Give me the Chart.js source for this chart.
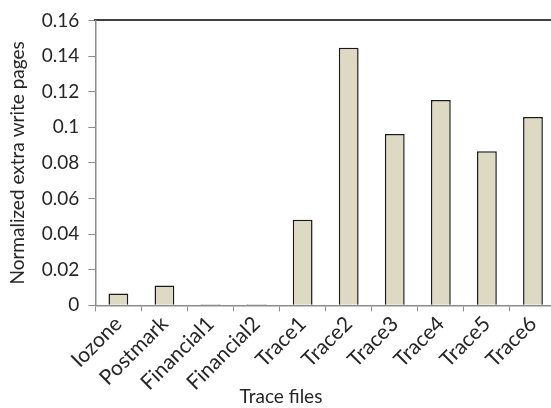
<!DOCTYPE html>
<html>
<head>
<meta charset="utf-8">
<script src="https://cdn.jsdelivr.net/npm/chart.js@4/dist/chart.umd.min.js"></script>
<style>
    html, body { margin: 0; padding: 0; background: #fff; overflow: hidden; }
    #wrap { width: 556px; height: 408px; }
</style>
</head>
<body>
<div id="wrap"><canvas id="extraWriteChart"></canvas></div>
<script>
// trace files on the x axis
const traceFiles = ['Iozone', 'Postmark', 'Financial1', 'Financial2', 'Trace1', 'Trace2', 'Trace3', 'Trace4', 'Trace5', 'Trace6'];
// normalized extra write pages
const extraWritePages = [0.0066, 0.0112, 0.0006, 0.0006, 0.048, 0.1446, 0.0962, 0.1153, 0.0865, 0.1058];
const yTicks = [0, 0.02, 0.04, 0.06, 0.08, 0.1, 0.12, 0.14, 0.16];

document.addEventListener('DOMContentLoaded', () => {
    const ctx = document.getElementById('extraWriteChart').getContext('2d');
    Chart.defaults.font.family = 'Lato';
    Chart.defaults.color = '#262626';

    new Chart(ctx, {
        type: 'bar',
        data: {
            labels: traceFiles,
            datasets: [{
                label: 'Normalized extra write pages',
                data: extraWritePages,
                backgroundColor: '#ddd9c3',
                borderColor: '#1a1a1a',
                borderWidth: 1.5,
                borderSkipped: 'start',
                categoryPercentage: 1,
                barPercentage: 0.43
            }]
        },
        options: {
            responsive: true,
            maintainAspectRatio: false,
            animation: false,
            layout: { padding: { left: 6, top: 9, right: 0, bottom: 0 } },
            plugins: {
                legend: { display: false },
                tooltip: { enabled: false },
                title: {
                    display: true,
                    text: 'Trace files',
                    position: 'bottom',
                    font: { size: 19, weight: 'normal' },
                    // negative top pad lets the rotated labels use more room
                    padding: { top: -10, bottom: 0 }
                }
            },
            scales: {
                x: {
                    grid: { display: true, drawOnChartArea: false, drawTicks: true, tickLength: 6, color: '#8c8c8c' },
                    border: { display: true, color: '#8c8c8c', width: 1.5 },
                    ticks: { minRotation: 45, maxRotation: 45, font: { size: 21 }, padding: 0 }
                },
                top: {
                    position: 'top',
                    type: 'category',
                    grid: { display: false },
                    border: { display: true, color: '#404040', width: 2 },
                    ticks: { display: false }
                },
                y: {
                    min: 0,
                    max: 0.16,
                    afterBuildTicks: (axis) => { axis.ticks = yTicks.map(v => ({ value: v })); },
                    grid: { display: true, drawOnChartArea: false, drawTicks: true, tickLength: 7, color: '#8c8c8c' },
                    border: { display: true, color: '#8c8c8c', width: 1.5 },
                    ticks: { font: { size: 19 }, padding: 9, callback: v => String(v) },
                    title: {
                        display: true,
                        text: 'Normalized extra write pages',
                        font: { size: 19 },
                        padding: { top: 0, bottom: 4 }
                    }
                }
            }
        }
    });
});
</script>
</body>
</html>
